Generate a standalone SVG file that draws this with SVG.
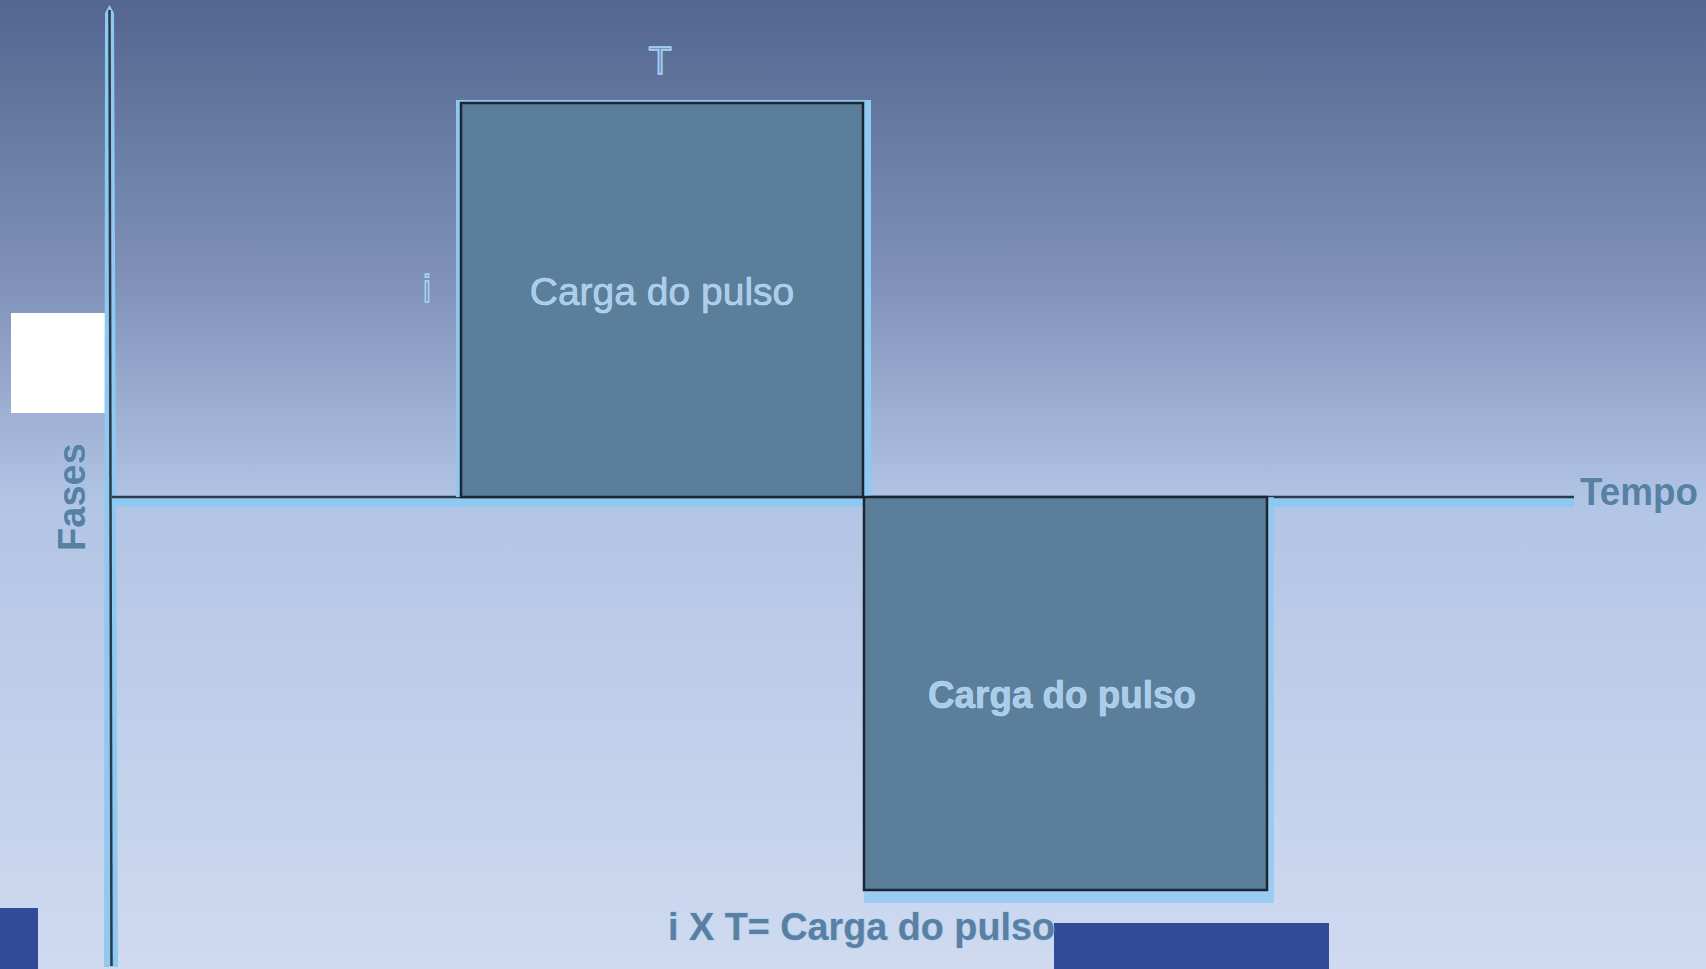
<svg xmlns="http://www.w3.org/2000/svg" width="1706" height="969" viewBox="0 0 1706 969">
<defs>
<linearGradient id="bg" x1="0" y1="0" x2="0" y2="1">
<stop offset="0" stop-color="#52668F"/>
<stop offset="0.3" stop-color="#8193BA"/>
<stop offset="0.52" stop-color="#B3C5E5"/>
<stop offset="1" stop-color="#CFDAF0"/>
</linearGradient>
</defs>
<style>
.glow{fill:none;stroke:#8FC9F2;}
.ax{fill:none;stroke:#2A3A48;stroke-width:2.5;}
.box{fill:#5B7E9A;stroke:#1C2630;stroke-width:2.5;}
.boxglow{fill:#8FC9F2;}
.intxt{font-family:"Liberation Sans",Arial,sans-serif;font-size:39px;fill:#A8CDEC;stroke:#C2DDF3;stroke-width:0.6;text-anchor:middle;}
.lbl{font-family:"Liberation Sans",Arial,sans-serif;font-size:38px;font-weight:bold;fill:#5B7FA0;stroke:#9FD0F5;stroke-width:1.2;paint-order:stroke;}
.sym{font-family:"Liberation Sans",Arial,sans-serif;font-size:38px;fill:#7C96BC;stroke:#A6D6F7;stroke-width:1.4;text-anchor:middle;}
</style>
<rect x="0" y="0" width="1706" height="969" fill="url(#bg)"/>
<rect x="11" y="313" width="94" height="100" fill="#FFFFFF"/>
<rect x="0" y="908" width="38" height="61" fill="#334A99"/>
<rect x="1054" y="923" width="275" height="46" fill="#334A99"/>
<g id="connectors">
<polygon points="104,967 105,13 109.5,5 114,13 118,967" fill="#8FC9F2"/>
<line class="ax" x1="109.5" y1="10" x2="111.5" y2="966"/>
<line class="glow" x1="114" y1="502.5" x2="1574" y2="502.5" stroke-width="9"/>
<line class="ax" x1="112" y1="497" x2="1574" y2="497"/>
</g>
<g id="box-positive">
<rect class="boxglow" x="456" y="100" width="415" height="397"/>
<rect class="box" x="461" y="103" width="402" height="394"/>
<text class="intxt" x="662" y="305">Carga do pulso</text>
</g>
<g id="box-negative">
<rect class="boxglow" x="864" y="497" width="410" height="406" opacity="0.8"/>
<rect class="box" x="864" y="497" width="403" height="393"/>
<text class="intxt" x="1062" y="708" font-weight="bold" textLength="268" lengthAdjust="spacingAndGlyphs">Carga do pulso</text>
</g>
<g id="label-T"><text class="sym" x="660" y="74">T</text></g>
<g id="label-i"><text class="sym" x="427" y="302">i</text></g>
<g id="label-fases"><text class="lbl" transform="translate(85,497) rotate(-90)" text-anchor="middle">Fases</text></g>
<g id="label-tempo"><text class="lbl" x="1580" y="505" textLength="118" lengthAdjust="spacingAndGlyphs">Tempo</text></g>
<g id="label-formula"><text class="lbl" x="668" y="940" textLength="387" lengthAdjust="spacingAndGlyphs">i X T= Carga do pulso</text></g>
</svg>
